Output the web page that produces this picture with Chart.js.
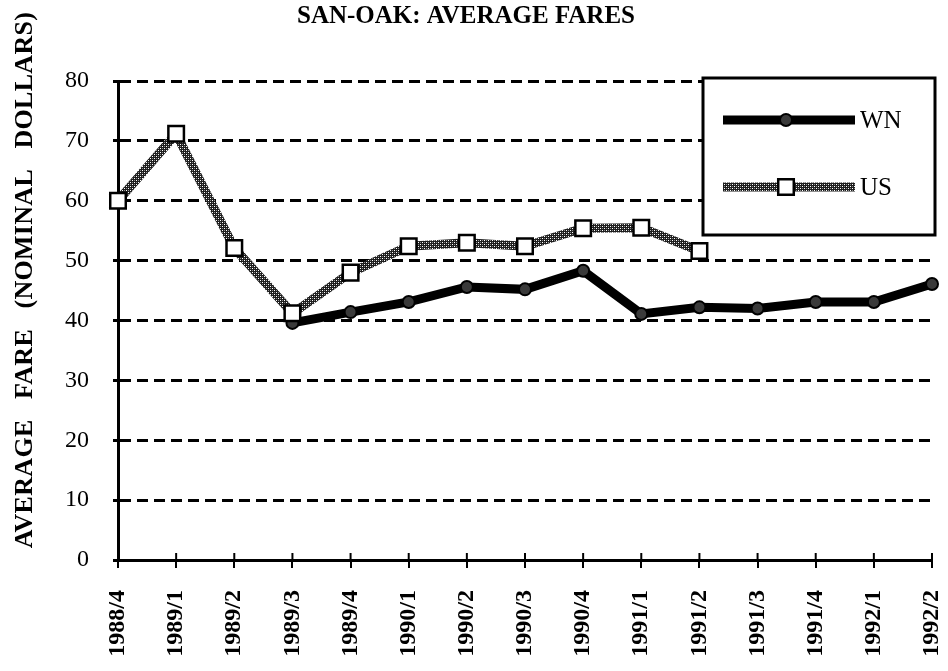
<!DOCTYPE html>
<html>
<head>
<meta charset="utf-8">
<script src="https://cdn.jsdelivr.net/npm/chart.js@4.4.1/dist/chart.umd.min.js"></script>
<style>
  html, body { margin: 0; padding: 0; background: #fff; }
  #wrap { width: 948px; height: 671px; }
</style>
</head>
<body>
<div id="wrap"><canvas id="myChart" width="948" height="671"></canvas></div>
<script>
// quarters on the x axis
var quarters = ['1988/4', '1989/1', '1989/2', '1989/3', '1989/4', '1990/1', '1990/2', '1990/3',
                '1990/4', '1991/1', '1991/2', '1991/3', '1991/4', '1992/1', '1992/2'];
// average fares, nominal dollars
var fareWN = [null, null, null, 39.6, 41.4, 43.1, 45.6, 45.2, 48.3, 41.1, 42.2, 42.0, 43.1, 43.1, 46.1];
var fareUS = [60.0, 71.2, 52.1, 41.2, 48.0, 52.4, 53.0, 52.4, 55.4, 55.5, 51.6, null, null, null, null];
var seriesNames = ['WN', 'US'];
var yTicks = [0, 10, 20, 30, 40, 50, 60, 70, 80];

var serif = "'Liberation Serif', 'Times New Roman', serif";

// hatched grey stroke for the US line
function hatch() {
    var c = document.createElement('canvas');
    c.width = 4; c.height = 4;
    var g = c.getContext('2d');
    g.fillStyle = '#1e1e1e';
    g.fillRect(0, 0, 4, 4);
    g.fillStyle = '#ffffff';
    g.fillRect(0, 0, 1, 1);
    g.fillRect(2, 2, 1, 1);
    g.fillStyle = '#8a8a8a';
    g.fillRect(2, 0, 1, 1);
    g.fillRect(0, 2, 1, 1);
    return g.createPattern(c, 'repeat');
}
var usStroke = hatch();

// y axis title, wide word gaps like the original
var yTitlePlugin = {
    id: 'yTitle',
    afterDraw: function(chart) {
        var ctx = chart.ctx;
        ctx.save();
        ctx.translate(25, 280);
        ctx.rotate(-Math.PI / 2);
        ctx.font = 'bold 26px ' + serif;
        ctx.fillStyle = '#000';
        ctx.textAlign = 'center';
        ctx.textBaseline = 'middle';
        ctx.letterSpacing = '0.3px';
        ctx.fillText('AVERAGE   FARE   (NOMINAL   DOLLARS)', 0, 0);
        ctx.restore();
    }
};

// x tick marks crossing the axis upward too
var upTicks = {
    id: 'upTicks',
    afterDraw: function(chart) {
        var ctx = chart.ctx;
        var xs = chart.scales.x, bottom = chart.chartArea.bottom;
        ctx.save();
        ctx.strokeStyle = '#000';
        ctx.lineWidth = 2;
        quarters.forEach(function(q, i) {
            var x = xs.getPixelForValue(i);
            ctx.beginPath();
            ctx.moveTo(x, bottom - 7);
            ctx.lineTo(x, bottom);
            ctx.stroke();
        });
        ctx.restore();
    }
};

// boxed legend inside the top right of the plot
var boxLegend = {
    id: 'boxLegend',
    afterDatasetsDraw: function(chart) {
        var ctx = chart.ctx;
        var a = chart.chartArea;
        var x0 = a.right - 229, y0 = a.top - 3, w = 232, h = 157;
        ctx.save();
        ctx.fillStyle = '#fff';
        ctx.fillRect(x0, y0, w, h);
        ctx.lineWidth = 3;
        ctx.strokeStyle = '#000';
        ctx.strokeRect(x0, y0, w, h);
        var rows = [y0 + 42, y0 + 109];
        chart.data.datasets.forEach(function(ds, i) {
            var y = rows[i];
            ctx.lineWidth = ds.borderWidth;
            ctx.strokeStyle = ds.borderColor;
            ctx.beginPath();
            ctx.moveTo(x0 + 20, y);
            ctx.lineTo(x0 + 152, y);
            ctx.stroke();
            var px = x0 + 83;
            ctx.lineWidth = ds.pointBorderWidth;
            ctx.strokeStyle = ds.pointBorderColor;
            ctx.fillStyle = ds.pointBackgroundColor;
            ctx.beginPath();
            if (ds.pointStyle === 'rect') {
                var s = ds.pointRadius / Math.SQRT2;
                ctx.rect(px - s, y - s, 2 * s, 2 * s);
            } else {
                ctx.arc(px, y, ds.pointRadius, 0, Math.PI * 2);
            }
            ctx.fill();
            ctx.stroke();
            ctx.fillStyle = '#000';
            ctx.font = '25px ' + serif;
            ctx.textBaseline = 'middle';
            ctx.fillText(ds.label, x0 + 157, y + 1);
        });
        ctx.restore();
    }
};

var ctx = document.getElementById('myChart').getContext('2d');
var myChart = new Chart(ctx, {
    type: 'line',
    data: {
        labels: quarters,
        datasets: [
            {
                label: seriesNames[0],
                data: fareWN,
                borderColor: '#000',
                borderWidth: 9,
                pointStyle: 'circle',
                pointRadius: 6,
                pointBackgroundColor: '#3a3a3a',
                pointBorderColor: '#000',
                pointBorderWidth: 2,
                tension: 0,
                order: 2
            },
            {
                label: seriesNames[1],
                data: fareUS,
                borderColor: usStroke,
                borderWidth: 9,
                pointStyle: 'rect',
                pointRadius: 11,
                pointBackgroundColor: '#fff',
                pointBorderColor: '#000',
                pointBorderWidth: 2.5,
                tension: 0,
                order: 1
            }
        ]
    },
    options: {
        responsive: false,
        animation: false,
        layout: { padding: { left: 0, right: 16, top: 0, bottom: 0 } },
        plugins: {
            legend: { display: false },
            tooltip: { enabled: false },
            title: {
                display: true,
                text: 'SAN-OAK: AVERAGE FARES',
                color: '#000',
                font: { family: serif, size: 25, weight: 'bold', lineHeight: 1.2 },
                padding: { top: 2, bottom: 49 }
            }
        },
        scales: {
            x: {
                offset: false,
                afterFit: function(s) { s.height = 111; s.paddingLeft = 0; s.paddingRight = 0; },
                border: { color: '#000', width: 3 },
                grid: { drawOnChartArea: false, drawTicks: true, tickLength: 8, color: '#000', lineWidth: 2 },
                ticks: {
                    color: '#000',
                    font: { family: serif, size: 24, weight: 'bold' },
                    minRotation: 90, maxRotation: 90,
                    padding: 22,
                    autoSkip: false
                }
            },
            y: {
                min: 0, max: 80,
                afterFit: function(s) { s.width = 118; },
                afterBuildTicks: function(s) { s.ticks = yTicks.map(function(v) { return { value: v }; }); },
                border: { color: '#000', width: 3, dash: [11, 6] },
                grid: {
                    color: '#000', lineWidth: 3,
                    tickLength: 5,
                    tickBorderDash: [],
                    tickWidth: 3
                },
                ticks: {
                    color: '#000',
                    font: { family: serif, size: 24 },
                    padding: 24
                }
            }
        }
    },
    plugins: [yTitlePlugin, upTicks, boxLegend]
});
</script>
</body>
</html>
